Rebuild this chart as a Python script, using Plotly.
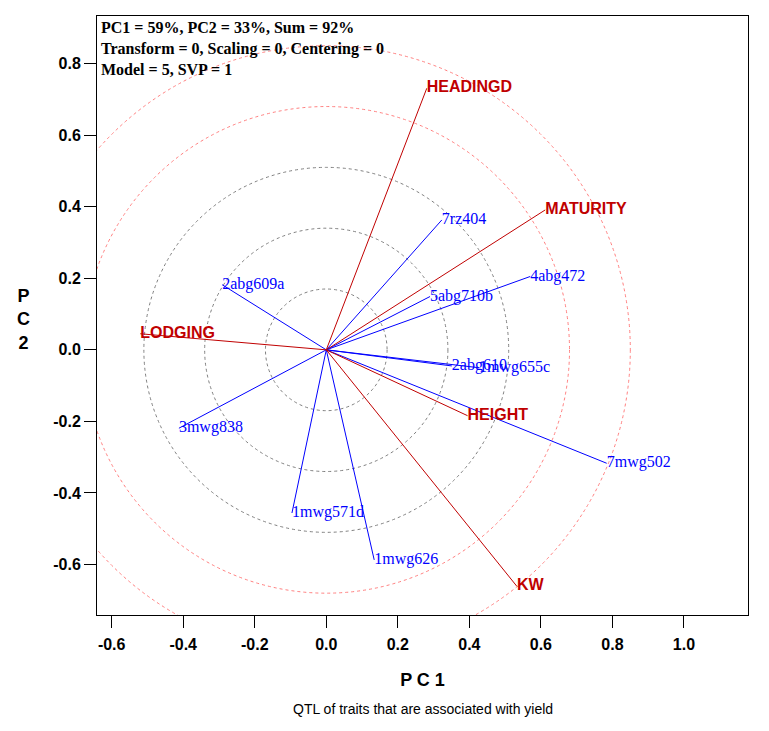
import plotly.graph_objects as go

# rasgos (vectores rojos) y QTL (vectores azules)
traits = ['HEADINGD', 'MATURITY', 'LODGING', 'HEIGHT', 'KW']
trait_pc1 = [0.281, 0.612, -0.520, 0.395, 0.533]
trait_pc2 = [0.731, 0.391, 0.045, -0.184, -0.661]

markers = ['7rz404', '4abg472', '5abg710b', '2abg609a', '3mwg838',
           '1mwg571d', '1mwg626', '7mwg502', '2abg610', '1mwg655c']
marker_pc1 = [0.323, 0.570, 0.290, -0.291, -0.412,
              -0.096, 0.134, 0.784, 0.351, 0.427]
marker_pc2 = [0.363, 0.205, 0.149, 0.182, -0.219,
              -0.456, -0.587, -0.317, -0.045, -0.050]

circle_r = [0.17, 0.34, 0.51, 0.68, 0.85]

tick_vals = [-0.6, -0.4, -0.2, 0.0, 0.2, 0.4, 0.6, 0.8, 1.0]
tick_text = ['-0.6', '-0.4', '-0.2', '0.0', '0.2', '0.4', '0.6', '0.8', '1.0']

info_lines = ['PC1 = 59%, PC2 = 33%, Sum = 92%',
              'Transform = 0, Scaling = 0, Centering = 0',
              'Model = 5, SVP = 1']

RED = '#c00000'
BLUE = '#0000ff'

fig = go.Figure()

# circulos concentricos
for r in circle_r:
    col = '#808080' if r < 0.6 else '#ff8080'
    fig.add_shape(type='circle', xref='x', yref='y', x0=-r, y0=-r, x1=r, y1=r,
                  line=dict(color=col, width=1, dash='3px,3px'), layer='below')

# vectores de los marcadores
for name, x, y in zip(markers, marker_pc1, marker_pc2):
    fig.add_trace(go.Scatter(x=[0, x], y=[0, y], mode='lines',
                             line=dict(color=BLUE, width=1), hoverinfo='skip'))
fig.add_trace(go.Scatter(x=marker_pc1, y=marker_pc2, mode='text', text=markers,
                         textposition='middle right',
                         textfont=dict(family='Liberation Serif', size=16, color=BLUE)))

# vectores de los rasgos
for name, x, y in zip(traits, trait_pc1, trait_pc2):
    fig.add_trace(go.Scatter(x=[0, x], y=[0, y], mode='lines',
                             line=dict(color=RED, width=1), hoverinfo='skip'))
fig.add_trace(go.Scatter(x=trait_pc1, y=trait_pc2, mode='text',
                         text=['<b>' + t + '</b>' for t in traits],
                         textposition='middle right',
                         textfont=dict(family='Liberation Sans', size=16, color=RED)))

fig.add_annotation(xref='paper', yref='paper', x=0.003, y=0.998, xanchor='left', yanchor='top',
                   text='<b>' + '<br>'.join(info_lines) + '</b>', showarrow=False, align='left',
                   font=dict(family='Liberation Serif', size=16, color='black'))
fig.add_annotation(xref='paper', yref='paper', x=0.5, y=0, yshift=-94, xanchor='center', yanchor='middle',
                   text='QTL of traits that are associated with yield', showarrow=False,
                   font=dict(family='Liberation Sans', size=14, color='black'))
fig.add_annotation(xref='paper', yref='paper', x=0, xshift=-74, y=0.5, yshift=-4, xanchor='center',
                   yanchor='middle', showarrow=False, text='<b>P<br>C<br>2</b>', align='center',
                   font=dict(family='Liberation Sans', size=18, color='black'))

axis_common = dict(showgrid=False, zeroline=False, showline=True, linecolor='black', linewidth=1,
                   mirror=True, ticks='outside', ticklen=12, tickcolor='black',
                   tickvals=tick_vals, ticktext=['<b>' + t + '</b>' for t in tick_text],
                   tickfont=dict(family='Liberation Sans', size=16, color='black'))

# el cuerpo de la pagina deja 8 px de margen: se compensa aqui
fig.update_layout(
    width=761, height=723, showlegend=False,
    margin=dict(l=89, r=21, t=8, b=116, autoexpand=False),
    paper_bgcolor='white', plot_bgcolor='white',
    xaxis=dict(range=[-0.641, 1.179], ticklabelstandoff=3,
               title=dict(text='<b>P C 1</b>', font=dict(family='Liberation Sans', size=18, color='black'),
                          standoff=21),
               **axis_common),
    yaxis=dict(range=[-0.741, 0.933], **axis_common),
)

fig.write_html('out.html')
